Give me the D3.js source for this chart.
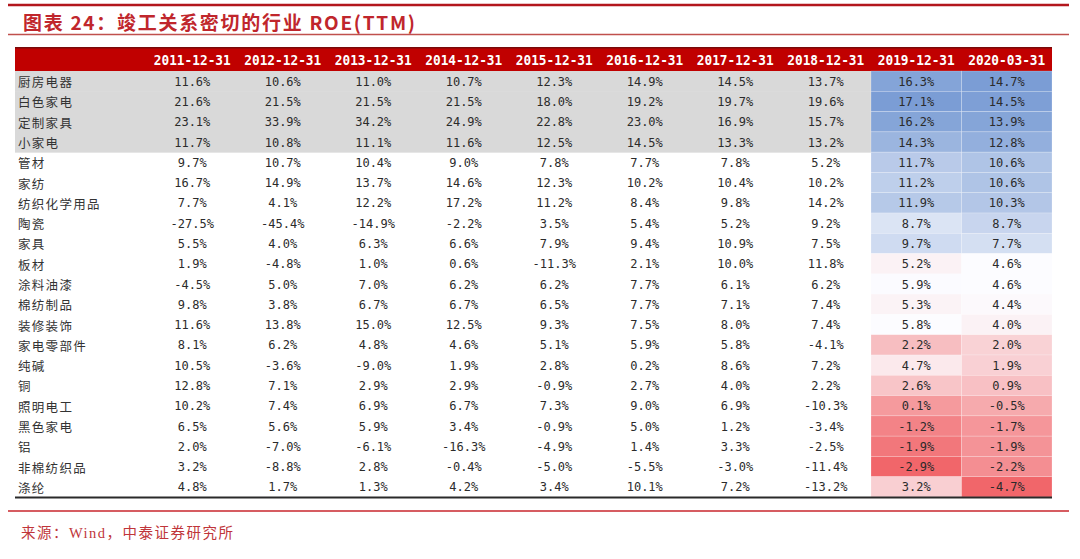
<!DOCTYPE html>
<html>
<head>
<meta charset="utf-8">
<script src="https://cdn.jsdelivr.net/npm/d3@7"></script>
<style>
  html, body { margin: 0; padding: 0; background: #ffffff; }
  svg { display: block; }
</style>
</head>
<body>
<script>
// ---- Data ----
const titleText = "图表 24：竣工关系密切的行业 ROE(TTM)";
const sourceText = "来源：Wind，中泰证券研究所";
const dates = ["2011-12-31","2012-12-31","2013-12-31","2014-12-31","2015-12-31",
               "2016-12-31","2017-12-31","2018-12-31","2019-12-31","2020-03-31"];
const categories = ["厨房电器","白色家电","定制家具","小家电","管材","家纺","纺织化学用品","陶瓷",
  "家具","板材","涂料油漆","棉纺制品","装修装饰","家电零部件","纯碱","铜","照明电工","黑色家电",
  "铝","非棉纺织品","涤纶"];
const highlightedRows = ["厨房电器","白色家电","定制家具","小家电"];
const heatColumns = ["2019-12-31","2020-03-31"];

const roe2011 = [11.6,21.6,23.1,11.7,9.7,16.7,7.7,-27.5,5.5,1.9,-4.5,9.8,11.6,8.1,10.5,12.8,10.2,6.5,2.0,3.2,4.8];
const roe2012 = [10.6,21.5,33.9,10.8,10.7,14.9,4.1,-45.4,4.0,-4.8,5.0,3.8,13.8,6.2,-3.6,7.1,7.4,5.6,-7.0,-8.8,1.7];
const roe2013 = [11.0,21.5,34.2,11.1,10.4,13.7,12.2,-14.9,6.3,1.0,7.0,6.7,15.0,4.8,-9.0,2.9,6.9,5.9,-6.1,2.8,1.3];
const roe2014 = [10.7,21.5,24.9,11.6,9.0,14.6,17.2,-2.2,6.6,0.6,6.2,6.7,12.5,4.6,1.9,2.9,6.7,3.4,-16.3,-0.4,4.2];
const roe2015 = [12.3,18.0,22.8,12.5,7.8,12.3,11.2,3.5,7.9,-11.3,6.2,6.5,9.3,5.1,2.8,-0.9,7.3,-0.9,-4.9,-5.0,3.4];
const roe2016 = [14.9,19.2,23.0,14.5,7.7,10.2,8.4,5.4,9.4,2.1,7.7,7.7,7.5,5.9,0.2,2.7,9.0,5.0,1.4,-5.5,10.1];
const roe2017 = [14.5,19.7,16.9,13.3,7.8,10.4,9.8,5.2,10.9,10.0,6.1,7.1,8.0,5.8,8.6,4.0,6.9,1.2,3.3,-3.0,7.2];
const roe2018 = [13.7,19.6,15.7,13.2,5.2,10.2,14.2,9.2,7.5,11.8,6.2,7.4,7.4,-4.1,7.2,2.2,-10.3,-3.4,-2.5,-11.4,-13.2];
const roe2019 = [16.3,17.1,16.2,14.3,11.7,11.2,11.9,8.7,9.7,5.2,5.9,5.3,5.8,2.2,4.7,2.6,0.1,-1.2,-1.9,-2.9,3.2];
const roe2020Q1 = [14.7,14.5,13.9,12.8,10.6,10.6,10.3,8.7,7.7,4.6,4.6,4.4,4.0,2.0,1.9,0.9,-0.5,-1.7,-1.9,-2.2,-4.7];

const seriesByDate = {
  "2011-12-31": roe2011, "2012-12-31": roe2012, "2013-12-31": roe2013, "2014-12-31": roe2014,
  "2015-12-31": roe2015, "2016-12-31": roe2016, "2017-12-31": roe2017, "2018-12-31": roe2018,
  "2019-12-31": roe2019, "2020-03-31": roe2020Q1
};

// ---- Layout ----
const W = 1080, H = 559;
const svg = d3.select("body").append("svg").attr("width", W).attr("height", H);
svg.append("rect").attr("width", W).attr("height", H).attr("fill", "#ffffff");

const tableLeft = 15, tableRight = 1052;
const headerTop = 47, headerBottom = 71, bodyBottom = 497;

const x = d3.scaleBand().domain(dates).range([147, tableRight]);
const y = d3.scaleBand().domain(categories).range([headerBottom, bodyBottom]);

// Title & rules
svg.append("line").attr("x1", 8).attr("x2", 1069).attr("y1", 5).attr("y2", 5)
  .attr("stroke", "#b3171d").attr("stroke-width", 2.5);
svg.append("text").attr("x", 23).attr("y", 21)
  .attr("dominant-baseline", "central")
  .attr("font-family", "'Noto Sans CJK SC', sans-serif")
  .attr("font-size", 19).attr("font-weight", "bold")
  .attr("fill", "#c0262c")
  .attr("textLength", 392).attr("lengthAdjust", "spacing")
  .text(titleText);
svg.append("line").attr("x1", 8).attr("x2", 1069).attr("y1", 34.5).attr("y2", 34.5)
  .attr("stroke", "#c0504d").attr("stroke-width", 1.5);

// Header
svg.append("rect").attr("x", tableLeft).attr("y", headerTop)
  .attr("width", tableRight - tableLeft).attr("height", headerBottom - headerTop)
  .attr("fill", "#c00000");
svg.append("line").attr("x1", tableLeft).attr("x2", tableRight)
  .attr("y1", headerTop + 0.75).attr("y2", headerTop + 0.75)
  .attr("stroke", "#7a0a0a").attr("stroke-width", 1.5);
svg.append("g").selectAll("text").data(dates).join("text")
  .attr("x", d => x(d) + x.bandwidth() / 2)
  .attr("y", (headerTop + headerBottom) / 2 + 1)
  .attr("text-anchor", "middle").attr("dominant-baseline", "central")
  .attr("font-family", "'DejaVu Sans Mono', monospace")
  .attr("font-size", 14).attr("font-weight", "bold")
  .attr("fill", "#ffffff")
  .attr("textLength", 77).attr("lengthAdjust", "spacingAndGlyphs")
  .text(d => d);

// Gray highlight band for first rows (non-heat columns)
svg.append("g").selectAll("rect").data(highlightedRows).join("rect")
  .attr("x", tableLeft).attr("y", d => y(d))
  .attr("width", x(heatColumns[0]) - tableLeft).attr("height", y.bandwidth() + 0.5)
  .attr("fill", "#d9d9d9");

// Heat-map columns (per-column 3-colour scale: min red, median white, max blue)
heatColumns.forEach(col => {
  const vals = seriesByDate[col];
  const sorted = vals.slice().sort(d3.ascending);
  const color = d3.scaleLinear()
    .domain([d3.min(vals), d3.median(sorted), d3.max(vals)])
    .range(["#f1666a", "#fcfcff", "#7b9dd5"]);
  svg.append("g").selectAll("rect").data(categories).join("rect")
    .attr("x", x(col)).attr("y", d => y(d))
    .attr("width", x.bandwidth()).attr("height", y.bandwidth())
    .attr("fill", (d, i) => color(vals[i]))
    .attr("stroke", "#ffffff").attr("stroke-opacity", 0.35).attr("stroke-width", 0.6);
});

// Row labels
svg.append("g").selectAll("text").data(categories).join("text")
  .attr("x", 18).attr("y", d => y(d) + y.bandwidth() / 2 + 0.5)
  .attr("dominant-baseline", "central")
  .attr("font-family", "'Noto Sans CJK SC', sans-serif")
  .attr("font-size", 12.5).attr("letter-spacing", 1.3)
  .attr("fill", "#333333")
  .text(d => d);

// Values
const fmt = v => v.toFixed(1) + "%";
dates.forEach(col => {
  const vals = seriesByDate[col];
  svg.append("g").selectAll("text").data(categories).join("text")
    .attr("x", x(col) + x.bandwidth() / 2)
    .attr("y", d => y(d) + y.bandwidth() / 2 + 0.5)
    .attr("text-anchor", "middle").attr("dominant-baseline", "central")
    .attr("font-family", "'DejaVu Sans Mono', monospace")
    .attr("font-size", 12)
    .attr("fill", "#2b2b2b")
    .text((d, i) => fmt(vals[i]));
});

// Bottom table border
svg.append("line").attr("x1", tableLeft).attr("x2", tableRight)
  .attr("y1", bodyBottom + 0.5).attr("y2", bodyBottom + 0.5)
  .attr("stroke", "#2a2a2a").attr("stroke-width", 2);

// Footer rule & source
svg.append("line").attr("x1", 8).attr("x2", 1069).attr("y1", 511).attr("y2", 511)
  .attr("stroke", "#c8262c").attr("stroke-width", 1.5);
svg.append("text").attr("x", 21).attr("y", 533)
  .attr("dominant-baseline", "central")
  .attr("font-family", "'Liberation Serif', 'Noto Sans CJK SC', serif")
  .attr("font-size", 14.5)
  .attr("fill", "#c0353a")
  .attr("textLength", 212).attr("lengthAdjust", "spacing")
  .text(sourceText);
</script>
</body>
</html>
